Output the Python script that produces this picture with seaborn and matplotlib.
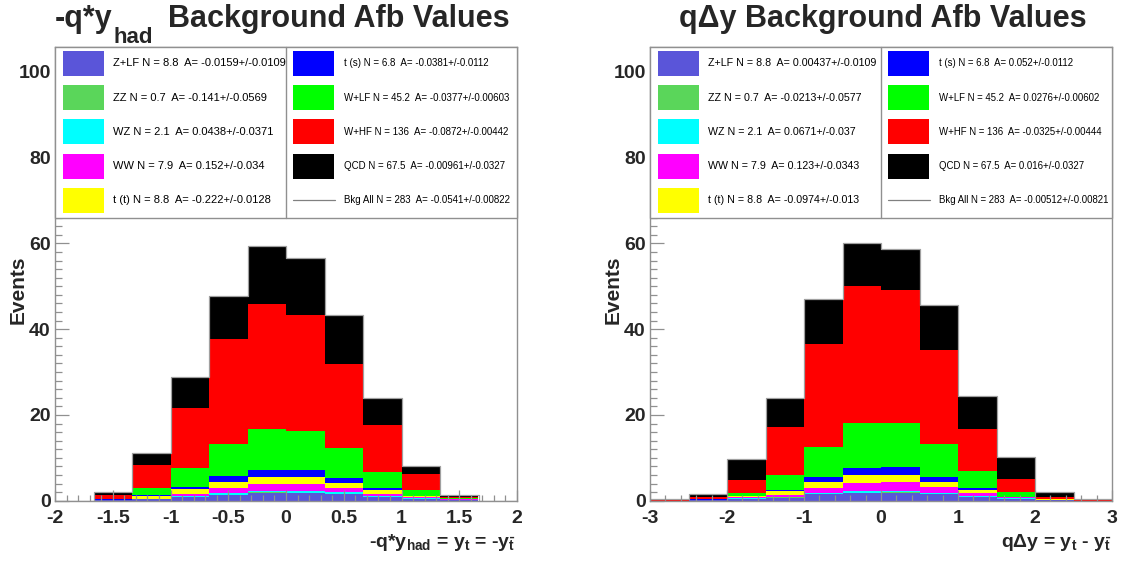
import numpy as np
import pandas as pd
import matplotlib
matplotlib.use("Agg")
import matplotlib.pyplot as plt
import seaborn as sns
from matplotlib.patches import Rectangle
from matplotlib.lines import Line2D
from matplotlib.ticker import MultipleLocator, FormatStrFormatter

sns.set_style("white")
plt.rcParams["font.family"] = ["Liberation Sans", "DejaVu Sans"]
plt.rcParams["axes.unicode_minus"] = False
plt.rcParams["mathtext.fontset"] = "custom"
plt.rcParams["mathtext.rm"] = "Liberation Sans:bold"
plt.rcParams["mathtext.it"] = "Liberation Sans:bold"
plt.rcParams["mathtext.bf"] = "Liberation Sans:bold"
plt.rcParams["mathtext.default"] = "rm"

# ---------------------------------------------------------------- data
processes = ["Z+LF", "ZZ", "WZ", "WW", "t (t)", "t (s)", "W+LF", "W+HF", "QCD"]
colors = ["#5a55d9", "#5ad65a", "#00ffff", "#ff00ff", "#ffff00",
          "#0000ff", "#00ff00", "#ff0000", "#000000"]
events_n = [8.8, 0.7, 2.1, 7.9, 8.8, 6.8, 45.2, 136, 67.5]
total_n = 283

# -q*y_had distribution, 12 bins on [-2, 2]
edges_had = [-2 + i / 3 for i in range(13)]
zlf_had = [0, 0.10, 0.30, 0.85, 1.30, 1.90, 1.75, 1.55, 0.80, 0.40, 0.15, 0]
zz_had = [0, 0.02, 0.02, 0.05, 0.10, 0.05, 0.10, 0.05, 0.05, 0.05, 0.02, 0]
wz_had = [0, 0.03, 0.05, 0.20, 0.40, 0.30, 0.35, 0.40, 0.15, 0.10, 0.05, 0]
ww_had = [0, 0.05, 0.12, 0.45, 1.10, 1.55, 1.60, 1.00, 0.50, 0.30, 0.10, 0]
tt_had = [0, 0.05, 0.60, 1.10, 1.50, 1.70, 1.70, 1.20, 1.10, 0.15, 0.08, 0]
ts_had = [0, 0.03, 0.20, 0.55, 1.30, 1.65, 1.55, 1.10, 0.30, 0.10, 0.05, 0]
wlf_had = [0, 0.15, 1.60, 4.50, 7.50, 9.55, 9.25, 7.00, 3.90, 1.40, 0.10, 0]
whf_had = [0, 0.80, 5.40, 14.0, 24.4, 29.2, 27.1, 19.6, 10.9, 3.65, 0.40, 0]
qcd_had = [0, 0.70, 2.80, 7.20, 10.1, 13.6, 13.3, 11.5, 6.20, 2.05, 0.35, 0]
afb_had = [-0.0159, -0.141, 0.0438, 0.152, -0.222, -0.0381, -0.0377, -0.0872, -0.00961]
afb_had_err = [0.0109, 0.0569, 0.0371, 0.034, 0.0128, 0.0112, 0.00603, 0.00442, 0.0327]
afb_had_all = (-0.0541, 0.00822)

# q*Delta y distribution, 12 bins on [-3, 3]
edges_dy = [-3 + i * 0.5 for i in range(13)]
zlf_dy = [0, 0.10, 0.40, 0.70, 1.45, 1.80, 1.85, 1.45, 0.80, 0.35, 0.15, 0]
zz_dy = [0, 0.02, 0.05, 0.05, 0.05, 0.10, 0.10, 0.05, 0.05, 0.05, 0.02, 0]
wz_dy = [0, 0.03, 0.10, 0.15, 0.30, 0.35, 0.40, 0.35, 0.30, 0.15, 0.05, 0]
ww_dy = [0, 0.05, 0.25, 0.35, 1.10, 1.85, 2.00, 1.25, 0.60, 0.25, 0.05, 0]
tt_dy = [0, 0.05, 0.25, 0.90, 1.40, 1.95, 1.75, 1.25, 0.70, 0.05, 0.03, 0]
ts_dy = [0, 0.03, 0.05, 0.45, 1.15, 1.55, 1.75, 1.15, 0.50, 0.05, 0.02, 0]
wlf_dy = [0, 0.05, 0.70, 3.40, 7.15, 10.5, 10.35, 7.70, 3.95, 1.10, 0.10, 0]
whf_dy = [0.05, 0.60, 2.95, 11.2, 23.9, 32.0, 31.0, 22.0, 9.90, 3.00, 0.50, 0.05]
qcd_dy = [0.30, 0.70, 5.05, 6.80, 10.6, 9.90, 9.50, 10.5, 7.50, 5.20, 1.20, 0.35]
afb_dy = [0.00437, -0.0213, 0.0671, 0.123, -0.0974, 0.052, 0.0276, -0.0325, 0.016]
afb_dy_err = [0.0109, 0.0577, 0.037, 0.0343, 0.013, 0.0112, 0.00602, 0.00444, 0.0327]
afb_dy_all = (-0.00512, 0.00821)

# ---------------------------------------------------------------- layout
W, H = 1126, 562
fig = plt.figure(figsize=(W / 100, H / 100), dpi=100, facecolor="white")
FRAME = "#909090"
AX_TOP, AX_BOT = 47.0, 500.7
LEG_BOT = 218.0


def fx(x):
    return x / W


def fy(y):
    return 1 - y / H


def add_axes(x0, x1):
    return fig.add_axes([fx(x0), fy(AX_BOT), (x1 - x0) / W, (AX_BOT - AX_TOP) / H])


def draw_panel(ax, edges, stacks, major, minor, ymax):
    edges_arr = np.asarray(edges, float)
    centers = 0.5 * (edges_arr[1:] + edges_arr[:-1])
    df = pd.DataFrame({
        "x": np.tile(centers, len(processes)),
        "w": np.concatenate([np.asarray(s, float) for s in stacks]),
        "proc": np.repeat(processes, len(centers)),
    })
    sns.histplot(data=df, x="x", weights="w", hue="proc",
                 hue_order=processes[::-1],
                 palette=dict(zip(processes, colors)),
                 multiple="stack", bins=list(edges), element="bars",
                 alpha=1, linewidth=0, antialiased=False,
                 legend=False, ax=ax)
    total = np.sum([np.asarray(s, float) for s in stacks], axis=0)
    sns.histplot(x=centers, weights=total, bins=list(edges), element="step",
                 fill=False, color="#a0a0a0", linewidth=0.9, ax=ax)
    ax.set_axisbelow(False)
    ax.set_xlim(edges[0], edges[-1])
    ax.set_ylim(0, ymax)
    ax.set_xlabel("")
    ax.set_ylabel("")
    ax.xaxis.set_major_locator(MultipleLocator(major))
    ax.xaxis.set_minor_locator(MultipleLocator(minor))
    ax.yaxis.set_major_locator(MultipleLocator(20))
    ax.yaxis.set_minor_locator(MultipleLocator(2))
    ax.xaxis.set_major_formatter(FormatStrFormatter("%g"))
    ax.yaxis.set_major_formatter(FormatStrFormatter("%g"))
    ax.tick_params(axis="both", which="both", direction="in", color=FRAME,
                   width=0.9, bottom=True, left=True, top=False, right=False)
    ax.tick_params(axis="x", which="major", length=8, pad=7)
    ax.tick_params(axis="x", which="minor", length=4.5)
    ax.tick_params(axis="y", which="major", length=10, pad=3)
    ax.tick_params(axis="y", which="minor", length=5)
    for lab in ax.get_xticklabels() + ax.get_yticklabels():
        lab.set_fontweight("bold")
        lab.set_fontsize(14)
    for sp in ax.spines.values():
        sp.set_color(FRAME)
        sp.set_linewidth(1.0)
        sp.set_visible(True)


def draw_legend(x0, x1, afb, afb_err, afb_all, size1, size2):
    mid = 0.5 * (x0 + x1)
    fig.add_artist(Rectangle((fx(x0), fy(LEG_BOT)), (x1 - x0) / W,
                             (LEG_BOT - AX_TOP) / H, transform=fig.transFigure,
                             facecolor="white", edgecolor=FRAME, linewidth=1.0,
                             zorder=5))
    fig.add_artist(Line2D([fx(mid), fx(mid)], [fy(AX_TOP), fy(LEG_BOT)],
                          transform=fig.transFigure, color=FRAME,
                          linewidth=1.0, zorder=6))
    labels = [f"{p} N = {n:g}  A= {a:g}+/-{e:g}"
              for p, n, a, e in zip(processes, events_n, afb, afb_err)]
    labels.append(f"Bkg All N = {total_n:g}  A= {afb_all[0]:g}+/-{afb_all[1]:g}")
    for i, lab in enumerate(labels):
        col, row = divmod(i, 5)
        yc = 63.5 + row * 34.2
        sx = (x0 + 8) if col == 0 else (mid + 7)
        tx = (x0 + 58) if col == 0 else (mid + 58)
        if i < len(processes):
            fig.add_artist(Rectangle((fx(sx), fy(yc + 12.5)), 41 / W, 25 / H,
                                     transform=fig.transFigure,
                                     facecolor=colors[i], edgecolor="none",
                                     zorder=7))
        else:
            fig.add_artist(Line2D([fx(sx), fx(sx + 42)], [fy(yc), fy(yc)],
                                  transform=fig.transFigure, color="#808080",
                                  linewidth=0.9, zorder=7))
        fig.text(fx(tx), fy(yc), lab, fontsize=size1 if col == 0 else size2,
                 ha="left", va="center", color="black", zorder=8)


ax1 = add_axes(55, 517)
ax2 = add_axes(650, 1112)
stacks_had = [zlf_had, zz_had, wz_had, ww_had, tt_had, ts_had, wlf_had, whf_had, qcd_had]
stacks_dy = [zlf_dy, zz_dy, wz_dy, ww_dy, tt_dy, ts_dy, wlf_dy, whf_dy, qcd_dy]
draw_panel(ax1, edges_had, stacks_had, 0.5, 0.1, 105.8)
draw_panel(ax2, edges_dy, stacks_dy, 1.0, 0.2, 105.8)

draw_legend(55, 517, afb_had, afb_had_err, afb_had_all, 8.0, 7.0)
draw_legend(650, 1112, afb_dy, afb_dy_err, afb_dy_all, 7.7, 6.95)

# titles
fig.text(fx(55), fy(27), "-q*y", fontsize=22, fontweight="bold",
         ha="left", va="baseline")
fig.text(fx(113), fy(43), "had", fontsize=16, fontweight="bold",
         ha="left", va="baseline")
fig.text(fx(168), fy(27), "Background Afb Values", fontsize=22,
         fontweight="bold", ha="left", va="baseline")
fig.text(fx(1087), fy(27), "q\u0394y Background Afb Values",
         fontsize=22, fontweight="bold", ha="right", va="baseline")

# axis titles
for xc in (18, 613):
    fig.text(fx(xc), fy(290), "Events", rotation=90, fontsize=15,
             fontweight="bold", ha="center", va="center")
fig.text(fx(516), fy(547), r"-q*y$_{\mathrm{had}}$ = y$_{\mathrm{t}}$ = -y$_{\bar{\mathrm{t}}}$",
         fontsize=14, fontweight="bold", ha="right", va="baseline")
fig.text(fx(1112), fy(547), "q\u0394y = y$_{\\mathrm{t}}$ - y$_{\\bar{\\mathrm{t}}}$",
         fontsize=14, fontweight="bold", ha="right", va="baseline")

fig.savefig("out.png", dpi=100, facecolor="white")
